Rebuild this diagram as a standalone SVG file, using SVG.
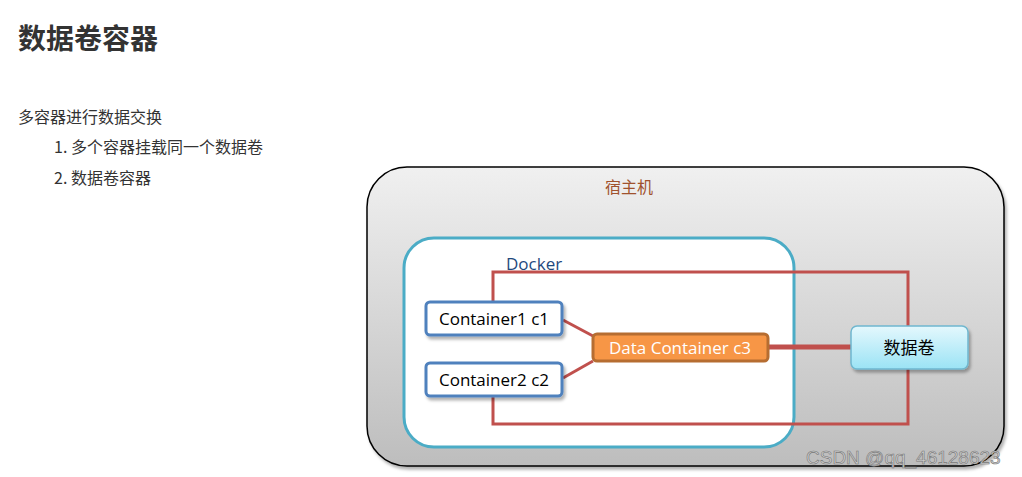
<svg xmlns="http://www.w3.org/2000/svg" width="1022" height="477" viewBox="0 0 1022 477">
<defs>
<linearGradient id="host" x1="0" y1="0" x2="0" y2="1"><stop offset="0" stop-color="#f0f0f0"/><stop offset="1" stop-color="#bdbdbd"/></linearGradient>
<linearGradient id="vol" x1="0" y1="0" x2="0" y2="1"><stop offset="0" stop-color="#e4f8fd"/><stop offset="1" stop-color="#9be3f5"/></linearGradient>
<filter id="sh" x="-10%" y="-10%" width="130%" height="140%"><feDropShadow dx="2" dy="3" stdDeviation="1.5" flood-color="#000" flood-opacity="0.3"/></filter>
</defs>
<style>
text{font-family:"Open Sans","Noto Sans","Noto Sans CJK SC",sans-serif}
.cn{font-family:"Noto Sans CJK SC",sans-serif;fill:#333}
.c{fill:#fff;stroke:#4f81bd;stroke-width:3}
.ln{fill:none;stroke:#c0504d;stroke-width:3}
.lbl{font-size:17px;fill:#000}
</style>
<rect width="1022" height="477" fill="#fff"/>
<text class="cn" x="18" y="49" font-size="28" font-weight="bold">数据卷容器</text>
<text class="cn" x="18" y="123" font-size="16">多容器进行数据交换</text>
<text class="cn" x="54" y="153" font-size="16">1. 多个容器挂载同一个数据卷</text>
<text class="cn" x="54" y="184" font-size="16">2. 数据卷容器</text>
<g id="host-node"><rect x="367" y="167" width="637" height="299" rx="40" fill="url(#host)" stroke="#000" stroke-width="1.5" filter="url(#sh)"/>
<text x="629" y="193" font-size="16" text-anchor="middle" style="font-family:'Noto Sans CJK SC',sans-serif;fill:#a0522d">宿主机</text></g>
<g id="docker"><rect x="404" y="238" width="390" height="209" rx="30" fill="#fff" stroke="#4bacc6" stroke-width="3"/>
<text x="506" y="270" font-size="17" fill="#1f497d">Docker</text></g>
<g id="connectors">
<polyline class="ln" points="493,302 493,272 908,272 908,326"/>
<polyline class="ln" points="493,396 493,424 908,424 908,368"/>
<line class="ln" x1="563" y1="320" x2="593" y2="336"/>
<line class="ln" x1="563" y1="378" x2="593" y2="361"/>
<line x1="768" y1="347" x2="851" y2="347" stroke="#c0504d" stroke-width="5"/>
</g>
<g id="c1"><rect class="c" x="426" y="302" width="136" height="33" rx="4" filter="url(#sh)"/><text class="lbl" x="494" y="325" text-anchor="middle">Container1 c1</text></g>
<g id="c2"><rect class="c" x="426" y="363" width="136" height="33" rx="4" filter="url(#sh)"/><text class="lbl" x="494" y="386" text-anchor="middle">Container2 c2</text></g>
<g id="c3"><rect x="593" y="334" width="175" height="27" rx="4" fill="#f79646" stroke="#b66d31" stroke-width="3"/><text x="680" y="354" font-size="17" fill="#fff" text-anchor="middle">Data Container c3</text></g>
<g id="volume"><rect x="851" y="326" width="117" height="43" rx="6" fill="url(#vol)" stroke="#6fb7cf" stroke-width="1.5" filter="url(#sh)"/><text x="909" y="354" font-size="17" text-anchor="middle" style="font-family:'Noto Sans CJK SC',sans-serif">数据卷</text></g>
<text x="806" y="464" font-size="19" fill="#d0d0d0" stroke="#777" stroke-width="0.6" style="font-family:'Liberation Sans',sans-serif">CSDN @qq_46128623</text>
</svg>
